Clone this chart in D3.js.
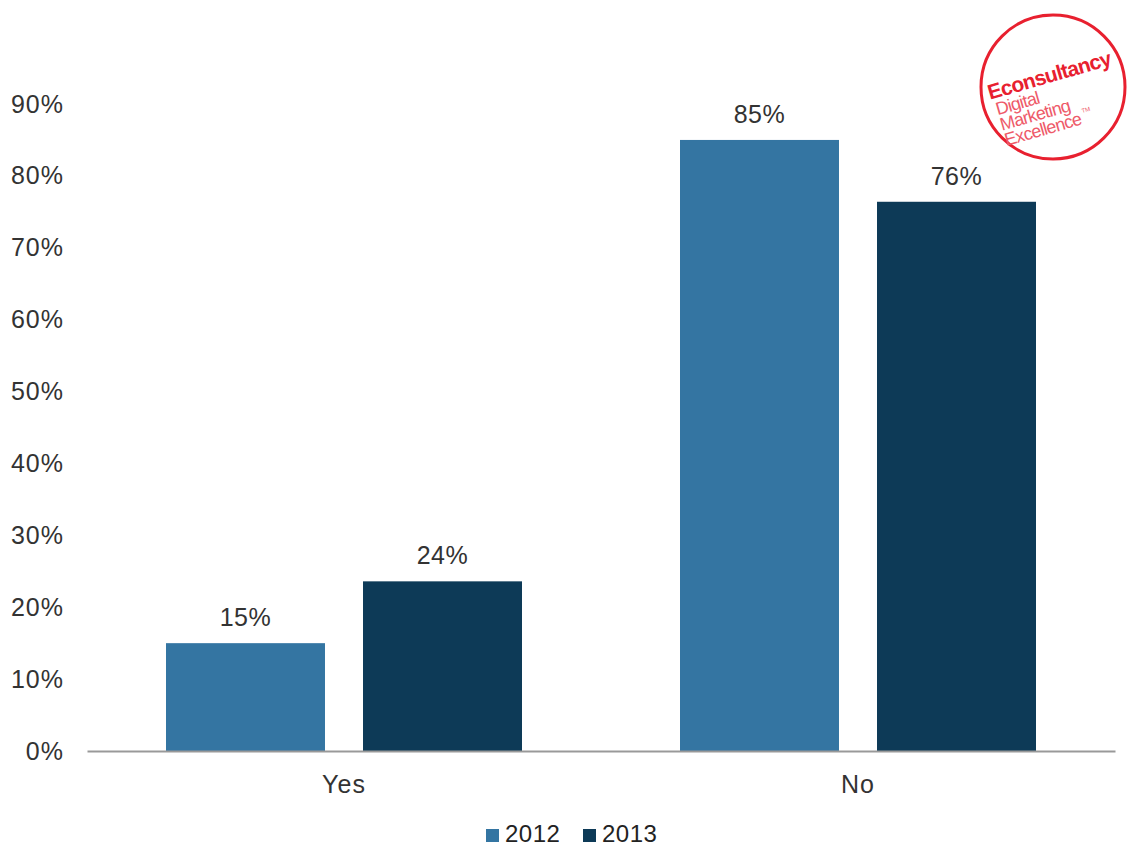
<!DOCTYPE html>
<html>
<head>
<meta charset="utf-8">
<script src="https://cdn.jsdelivr.net/npm/d3@7"></script>
<style>
  html, body { margin: 0; padding: 0; background: #fff; }
  svg { display: block; font-family: "Liberation Sans", Arial, sans-serif; }
</style>
</head>
<body>
<svg id="chart" width="1130" height="848"></svg>
<script>
// Survey answers by year
const categories = ["Yes", "No"];
const seriesNames = ["2012", "2013"];
const values2012 = [0.15, 0.85];
const values2013 = [0.236, 0.764];
const yTicks = [0, 0.1, 0.2, 0.3, 0.4, 0.5, 0.6, 0.7, 0.8, 0.9];
const colors = ["#3475a2", "#0d3a57"];

const svg = d3.select("#chart");
const plotLeft = 87, plotRight = 1115, baseY = 751, topY = 104;

const x0 = d3.scaleBand().domain(categories).range([plotLeft, plotRight]).paddingInner(0).paddingOuter(0);
const x1 = d3.scaleBand().domain(seriesNames).range([0, x0.bandwidth()]).paddingInner(0.193).paddingOuter(0.401);
const y = d3.scaleLinear().domain([0, 0.9]).range([baseY, topY]);
const color = d3.scaleOrdinal().domain(seriesNames).range(colors);
const fmt = d3.format(".0%");

const rows = categories.map((c, i) => ({
  category: c,
  items: [
    { series: "2012", value: values2012[i] },
    { series: "2013", value: values2013[i] }
  ]
}));

// Y axis labels (no axis line or ticks)
const yAxis = d3.axisLeft(y).tickValues(yTicks).tickFormat(d3.format(".0%")).tickSize(0).tickPadding(0);
const yg = svg.append("g").attr("transform", `translate(64,0)`).call(yAxis);
yg.select(".domain").remove();
yg.selectAll("text").attr("font-size", 25).attr("fill", "#333").attr("font-family", "Liberation Sans, Arial, sans-serif").attr("letter-spacing", 1);

// Bars
const groups = svg.append("g").selectAll("g").data(rows).join("g")
  .attr("transform", d => `translate(${x0(d.category)},0)`);

groups.selectAll("rect").data(d => d.items).join("rect")
  .attr("x", d => x1(d.series))
  .attr("width", x1.bandwidth())
  .attr("y", d => y(d.value))
  .attr("height", d => baseY - y(d.value))
  .attr("fill", d => color(d.series));

groups.selectAll("text.val").data(d => d.items).join("text")
  .attr("class", "val")
  .attr("x", d => x1(d.series) + x1.bandwidth() / 2)
  .attr("y", d => y(d.value) - 17)
  .attr("text-anchor", "middle")
  .attr("font-size", 25)
  .attr("fill", "#333")
  .attr("letter-spacing", 0.5)
  .text(d => fmt(d.value));

// X axis
const xAxis = d3.axisBottom(x0).tickSize(0).tickPadding(0);
const xg = svg.append("g").attr("transform", `translate(0,${baseY})`).call(xAxis);
xg.select(".domain").attr("stroke", "#999").attr("stroke-width", 2);
xg.selectAll("text").attr("font-size", 25).attr("fill", "#333")
  .attr("font-family", "Liberation Sans, Arial, sans-serif")
  .attr("dy", 0).attr("y", 42).attr("letter-spacing", 1);

// Legend
const legend = svg.append("g").attr("transform", "translate(486,842)");
const legendX = d3.scalePoint().domain(seriesNames).range([0, 97]);
const li = legend.selectAll("g").data(seriesNames).join("g")
  .attr("transform", d => `translate(${legendX(d)},0)`);
li.append("rect").attr("x", 0).attr("y", -13).attr("width", 13).attr("height", 13).attr("fill", d => color(d));
li.append("text").attr("x", 19).attr("y", 0).attr("font-size", 24).attr("fill", "#222").attr("letter-spacing", 0.5).text(d => d);

// Econsultancy badge
const badge = svg.append("g").attr("transform", "translate(1053,87)");
badge.append("circle").attr("r", 72).attr("fill", "#fff").attr("stroke", "#e8202f").attr("stroke-width", 3);
const bt = badge.append("g").attr("transform", "rotate(-16)");
bt.append("text").attr("x", -64).attr("y", -5).attr("font-size", 21).attr("font-weight", "bold")
  .attr("fill", "#e8202f").attr("letter-spacing", -0.8).text("Econsultancy");
const sub = [["Digital", 12], ["Marketing", 28], ["Excellence", 44]];
sub.forEach(([t, dy]) => {
  bt.append("text").attr("x", -61).attr("y", dy).attr("font-size", 18)
    .attr("fill", "#ee5a69").attr("letter-spacing", -0.8).text(t);
});
bt.append("text").attr("x", 21).attr("y", 33).attr("font-size", 6).attr("fill", "#ee5a69").text("TM");
</script>
</body>
</html>
